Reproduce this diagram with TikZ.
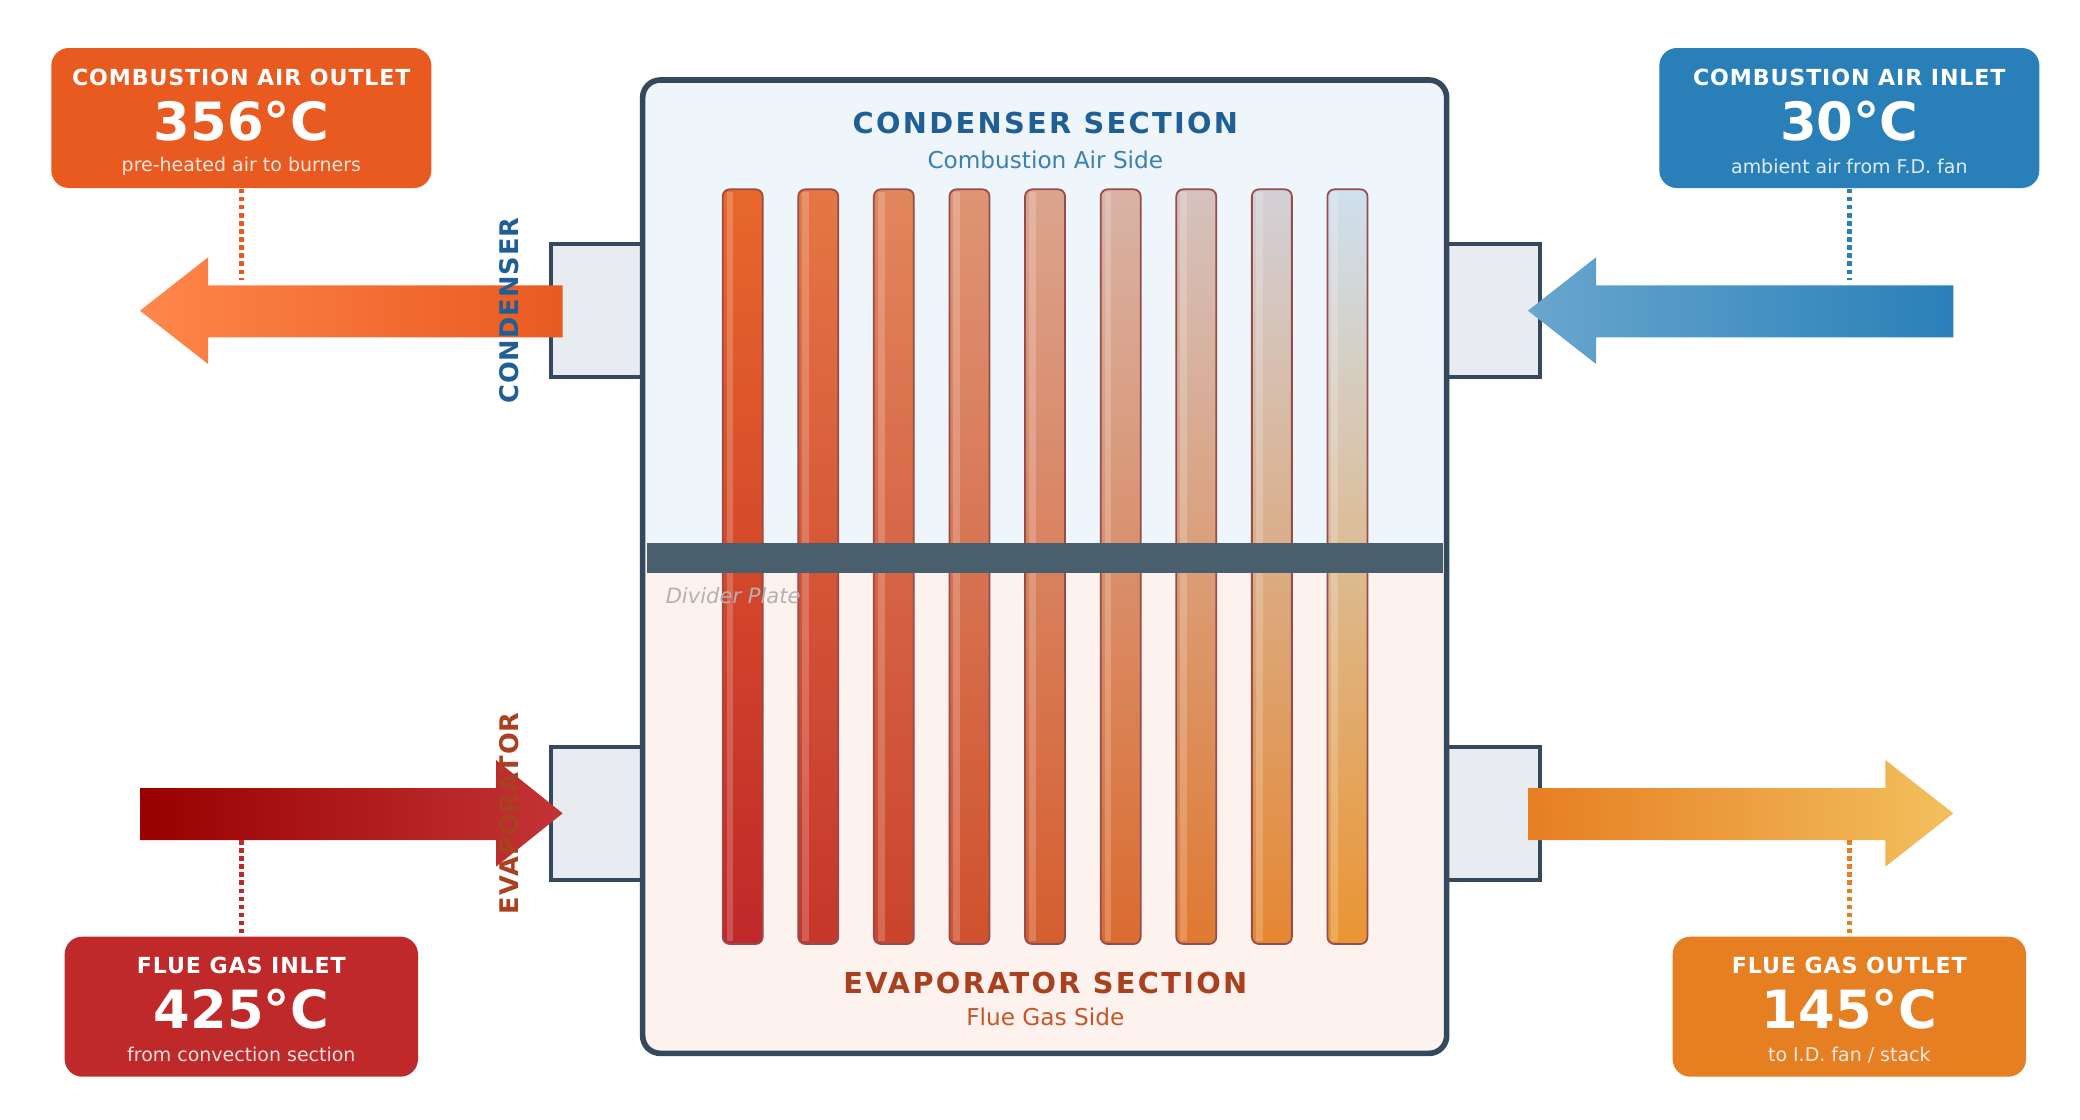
\documentclass[tikz,border=0pt]{standalone}
\usepackage{fontspec}
\setmainfont{DejaVu Sans}
\usetikzlibrary{positioning,calc}
\definecolor{shell}{HTML}{34495E}
\definecolor{airtop}{HTML}{EEF5FB}
\definecolor{gasbot}{HTML}{FDF2EE}
\definecolor{plate}{HTML}{4A5F6E}
\definecolor{condblue}{HTML}{1F5F95}
\definecolor{airblue}{HTML}{3A7FB8}
\definecolor{evapred}{HTML}{A9401F}
\definecolor{gasred}{HTML}{C8552A}
\definecolor{tTopA}{HTML}{E8682C}
\definecolor{tTopB}{HTML}{CFE0EF}
\definecolor{tBotA}{HTML}{C0282A}
\definecolor{tBotB}{HTML}{EA9432}
\definecolor{outorange}{HTML}{E95A20}
\definecolor{inblue}{HTML}{2980B9}
\definecolor{gasin}{HTML}{C0292A}
\definecolor{gasout}{HTML}{E67E22}
\definecolor{nozzle}{HTML}{E8ECF0}

\begin{document}
\begin{tikzpicture}[x=0.013333cm,y=-0.013333cm]

        \useasboundingbox (0,0) rectangle (1560,840);

        \tikzset{
            tagbox/.style={rounded corners=5pt, inner sep=0pt, text=white,
                minimum width=#1*0.013333cm, minimum height=105*0.013333cm},
            tagtitle/.style={text=white, font=\bfseries\fontsize{6.3}{7}\selectfont\addfontfeature{LetterSpace=4}},
            tagtemp/.style={text=white, font=\bfseries\fontsize{15}{16}\selectfont},
            tagsub/.style={text=white, opacity=.85, font=\fontsize{5.4}{6}\selectfont},
            noz/.style={draw=shell, fill=nozzle, line width=1.2pt},
            link/.style={densely dotted, line width=1.3pt},
            tube/.style={draw=red!40!black!70, line width=.5pt, rounded corners=2pt}
        }

        % shell with two sides
        \begin{scope}
            \clip[rounded corners=5pt] (482,60) rectangle (1085,790);
            \fill[airtop] (482,60) rectangle (1085,418);
            \fill[gasbot] (482,418) rectangle (1085,790);
        \end{scope}

        % nozzles
        \draw[noz] (413,183) rectangle (482,283);
        \draw[noz] (413,560) rectangle (482,660);
        \draw[noz] (1085,183) rectangle (1155,283);
        \draw[noz] (1085,560) rectangle (1155,660);

        % tubes
        \foreach \i [evaluate=\i as \p using {\i*12.5}] in {0,...,8} {
            \shade[tube, top color=tTopB!\p!tTopA, bottom color=tBotB!\p!tBotA]
                (542+56.7*\i,142) rectangle (572+56.7*\i,708);
            \fill[white, opacity=.2] (545+56.7*\i,144) rectangle (550+56.7*\i,706);
        }

        % divider plate
        \fill[plate] (485,407) rectangle (1082,430);
        \node[anchor=west, text=gray!60, font=\itshape\fontsize{6}{7}\selectfont]
            (plate) at (490,447) {Divider Plate};

        \draw[shell, line width=1.6pt, rounded corners=5pt] (482,60) rectangle (1085,790);

        % section titles
        \node[text=condblue, font=\bfseries\fontsize{8.2}{9}\selectfont\addfontfeature{LetterSpace=8}]
            (cond) at (784,92) {CONDENSER SECTION};
        \node[text=airblue, font=\fontsize{6.6}{7}\selectfont] (airside) at (784,120)
            {Combustion Air Side};
        \node[text=evapred, font=\bfseries\fontsize{8.2}{9}\selectfont\addfontfeature{LetterSpace=8}]
            (evap) at (784,737) {EVAPORATOR SECTION};
        \node[text=gasred, font=\fontsize{6.6}{7}\selectfont] (gasside) at (784,763)
            {Flue Gas Side};

        % flow arrows
        \shade[left color=orange!65!red!70!white, right color=outorange]
            (422,214) -- (156,214) -- (156,193) -- (105,233) -- (156,273) -- (156,253) -- (422,253) -- cycle;
        \shade[left color=red!60!black, right color=gasin!95!white]
            (105,591) -- (372,591) -- (372,570) -- (422,610) -- (372,650) -- (372,630) -- (105,630) -- cycle;
        \shade[left color=inblue!70!white, right color=inblue]
            (1465,214) -- (1197,214) -- (1197,193) -- (1146,233) -- (1197,273) -- (1197,253) -- (1465,253) -- cycle;
        \shade[left color=gasout, right color=gasout!70!yellow!70!white]
            (1146,591) -- (1414,591) -- (1414,570) -- (1465,610) -- (1414,650) -- (1414,630) -- (1146,630) -- cycle;

        % vertical labels
        \node[rotate=90, text=condblue, font=\bfseries\fontsize{7.3}{8}\selectfont\addfontfeature{LetterSpace=4}]
            (condlbl) at (382,233) {CONDENSER};
        \node[rotate=90, text=evapred, font=\bfseries\fontsize{7.3}{8}\selectfont\addfontfeature{LetterSpace=4}]
            (evaplbl) at (382,610) {EVAPORATOR};

        % tags
        \node[tagbox=285, fill=outorange] (airout) at (181,88.5) {};
        \node[tagtitle] at (181,58) {COMBUSTION AIR OUTLET};
        \node[tagtemp] at (181,91) {356°C};
        \node[tagsub] at (181,125) {pre-heated air to burners};

        \node[tagbox=285, fill=inblue] (airin) at (1387,88.5) {};
        \node[tagtitle] at (1387,58) {COMBUSTION AIR INLET};
        \node[tagtemp] at (1387,91) {30°C};
        \node[tagsub] at (1387,125) {ambient air from F.D. fan};

        \node[tagbox=265, fill=gasin] (gasinlet) at (181,755) {};
        \node[tagtitle] at (181,724) {FLUE GAS INLET};
        \node[tagtemp] at (181,757) {425°C};
        \node[tagsub] at (181,791) {from convection section};

        \node[tagbox=265, fill=gasout] (gasoutlet) at (1387,755) {};
        \node[tagtitle] at (1387,724) {FLUE GAS OUTLET};
        \node[tagtemp] at (1387,757) {145°C};
        \node[tagsub] at (1387,791) {to I.D. fan / stack};

        % links from tags to arrows
        \coordinate (a1) at (181,210);
        \coordinate (a2) at (1387,210);
        \coordinate (a3) at (181,630);
        \coordinate (a4) at (1387,630);
        \draw[link, outorange] (airout.south) -- (a1);
        \draw[link, inblue] (airin.south) -- (a2);
        \draw[link, gasin] (a3) -- (gasinlet.north);
        \draw[link, gasout] (a4) -- (gasoutlet.north);

\end{tikzpicture}
\end{document}
